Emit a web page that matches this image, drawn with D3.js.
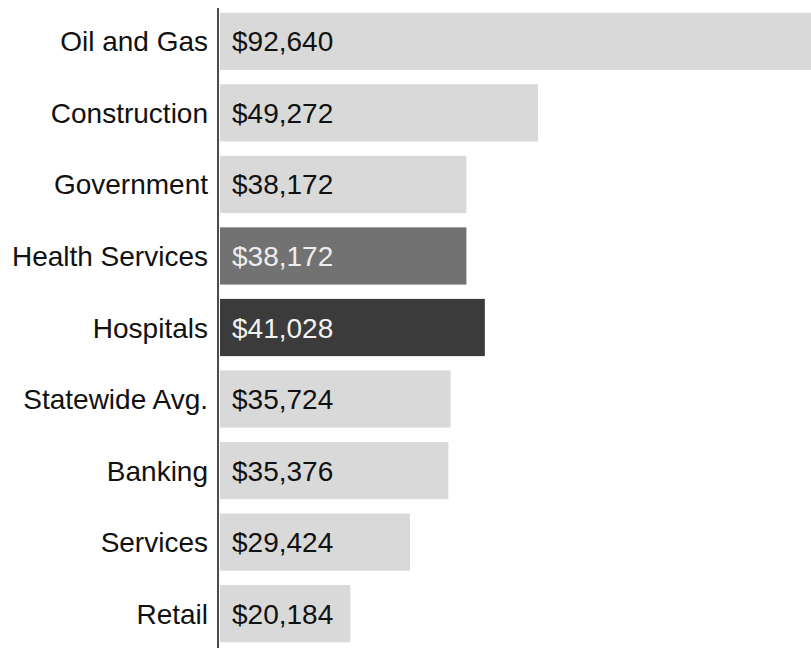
<!DOCTYPE html>
<html>
<head>
<meta charset="utf-8">
<script src="https://cdn.jsdelivr.net/npm/d3@7"></script>
<style>
  body { margin: 0; background: #fff; }
  svg { display: block; }
</style>
</head>
<body>
<div id="chart"></div>
<script>
// chart data
const categories = ["Oil and Gas", "Construction", "Government", "Health Services",
  "Hospitals", "Statewide Avg.", "Banking", "Services", "Retail"];
const wages = [92640, 49272, 38172, 38172, 41028, 35724, 35376, 29424, 20184];
const shades = ["light", "light", "light", "mid", "dark", "light", "light", "light", "light"];

const width = 811, height = 648;
const axisX = 218;

const data = categories.map((c, i) => ({ name: c, value: wages[i], shade: shades[i] }));

const fillFor = { light: "#d9d9d9", mid: "#727272", dark: "#3b3b3b" };
const textFor = { light: "#111", mid: "#eee", dark: "#f2f2f2" };

const svg = d3.select("#chart")
  .append("svg")
  .attr("width", width)
  .attr("height", height);

// x scale - bar length, oil and gas runs off the right edge
const x = d3.scaleLinear()
  .domain([0, 92640])
  .range([axisX + 2, axisX + 2 + 598]);

// y scale - one band per category
const y = d3.scaleBand()
  .domain(categories)
  .range([7, 648])
  .paddingInner(0.2)
  .paddingOuter(0.08);

svg.selectAll("rect.bar")
  .data(data)
  .join("rect")
  .attr("class", "bar")
  .attr("x", x(0))
  .attr("y", d => y(d.name))
  .attr("width", d => x(d.value) - x(0))
  .attr("height", y.bandwidth())
  .attr("fill", d => fillFor[d.shade]);

// category labels
svg.selectAll("text.cat")
  .data(data)
  .join("text")
  .attr("class", "cat")
  .attr("x", axisX - 10)
  .attr("y", d => y(d.name) + y.bandwidth() / 2)
  .attr("dy", "0.36em")
  .attr("text-anchor", "end")
  .attr("font-family", "Liberation Sans, Arial, sans-serif")
  .attr("font-size", 28)
  .attr("fill", "#111")
  .text(d => d.name);

// value labels inside bars
const fmt = d3.format("$,");
svg.selectAll("text.val")
  .data(data)
  .join("text")
  .attr("class", "val")
  .attr("x", axisX + 14)
  .attr("y", d => y(d.name) + y.bandwidth() / 2)
  .attr("dy", "0.36em")
  .attr("font-family", "Liberation Sans, Arial, sans-serif")
  .attr("font-size", 28)
  .attr("fill", d => textFor[d.shade])
  .text(d => fmt(d.value));

// vertical axis line
svg.append("line")
  .attr("x1", axisX)
  .attr("x2", axisX)
  .attr("y1", 8)
  .attr("y2", height)
  .attr("stroke", "#111")
  .attr("stroke-width", 1.5);
</script>
</body>
</html>
